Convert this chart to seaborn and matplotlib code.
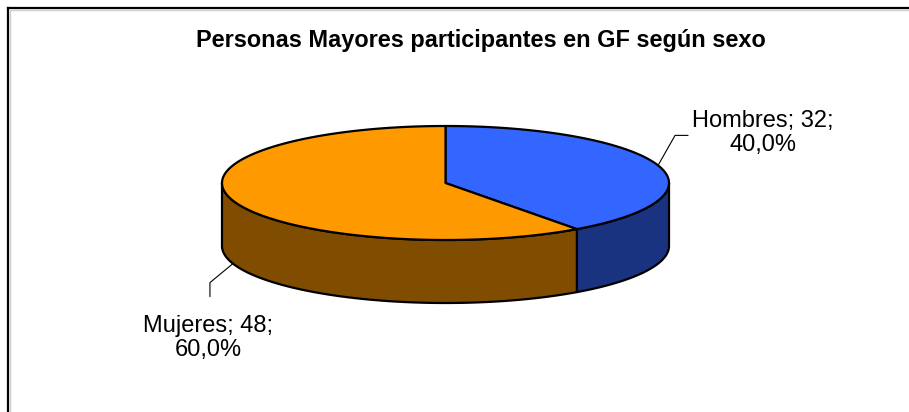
import numpy as np
import matplotlib
matplotlib.use("Agg")
import matplotlib.pyplot as plt
import seaborn as sns
from matplotlib.patches import Polygon

# ---- data ----
categories = ["Hombres", "Mujeres"]
values = [32, 48]
top_colors = ["#3366FF", "#FF9900"]
side_colors = ["#1A3380", "#804D00"]
title = "Personas Mayores participantes en GF según sexo"

sns.set_theme(style="white")
plt.rcParams['font.family'] = ['Liberation Sans', 'DejaVu Sans']

W, H = 909, 412
fig = plt.figure(figsize=(W / 100, H / 100), dpi=100)
fig.patch.set_facecolor("white")
ax = fig.add_axes([0, 0, 1, 1])
ax.set_xlim(0, W)
ax.set_ylim(H, 0)
ax.axis('off')

# frame (left and top edges visible)
ax.plot([10, 10], [H, 10], color="#d0d0d0", lw=1.0, solid_capstyle="butt")
ax.plot([10, W], [10, 10], color="#d0d0d0", lw=1.0, solid_capstyle="butt")
ax.plot([8, 8], [H, 8], color="black", lw=1.6, solid_capstyle="projecting")
ax.plot([8, W], [8, 8], color="black", lw=1.6, solid_capstyle="projecting")

# pie geometry (layout)
cx, cy, rx, ry, depth = 445.5, 183, 223.5, 57, 63
edge_kw = dict(edgecolor="black", linewidth=1.6, joinstyle="round")


def ell(t_deg, dy=0.0):
    t = np.radians(t_deg)
    return np.column_stack([cx + rx * np.cos(t), cy - ry * np.sin(t) + dy])


total = float(sum(values))
spans = []
a = 90.0
for v in values:
    a2 = a - 360.0 * v / total
    spans.append((a2, a))
    a = a2

# side walls (front half only)
for (lo, hi), sc in zip(spans, side_colors):
    for k in (-1, 0, 1):
        l = max(lo, -180 + 360 * k)
        h = min(hi, 0 + 360 * k)
        if h > l:
            t = np.linspace(l, h, 120)
            top = ell(t)
            bot = ell(t[::-1], depth)
            ax.add_patch(Polygon(np.vstack([top, bot]), closed=True,
                                 facecolor=sc, zorder=2, **edge_kw))

# top faces
for (lo, hi), tc in zip(spans, top_colors):
    t = np.linspace(lo, hi, 240)
    pts = np.vstack([[cx, cy], ell(t)])
    ax.add_patch(Polygon(pts, closed=True, facecolor=tc, zorder=3, **edge_kw))

# labels with leader lines
elbows = [(17, -30, 13, 0), (-23, 19, 0, 14)]   # layout offsets
text_pos = [(763, 133), (208, 338)]
for i, ((lo, hi), cat, v) in enumerate(zip(spans, categories, values)):
    m = (lo + hi) / 2.0
    p = ell([m], depth if np.sin(np.radians(m)) < 0 else 0.0)[0]
    ex, ey, fx, fy = elbows[i]
    xs = [p[0], p[0] + ex, p[0] + ex + fx]
    ys = [p[1], p[1] + ey, p[1] + ey + fy]
    ax.plot(xs, ys, color="black", lw=0.8, zorder=4)
    pct = f"{100.0 * v / total:.1f}".replace(".", ",")
    ax.text(text_pos[i][0], text_pos[i][1], f"{cat}; {v};\n{pct}%",
            ha="center", va="center", fontsize=17, color="black",
            linespacing=1.15, zorder=5)

ax.text(480.5, 40, title, ha="center", va="center", fontsize=16.9,
        fontweight="bold", color="black")

fig.savefig("out.png", dpi=100, facecolor="white")
